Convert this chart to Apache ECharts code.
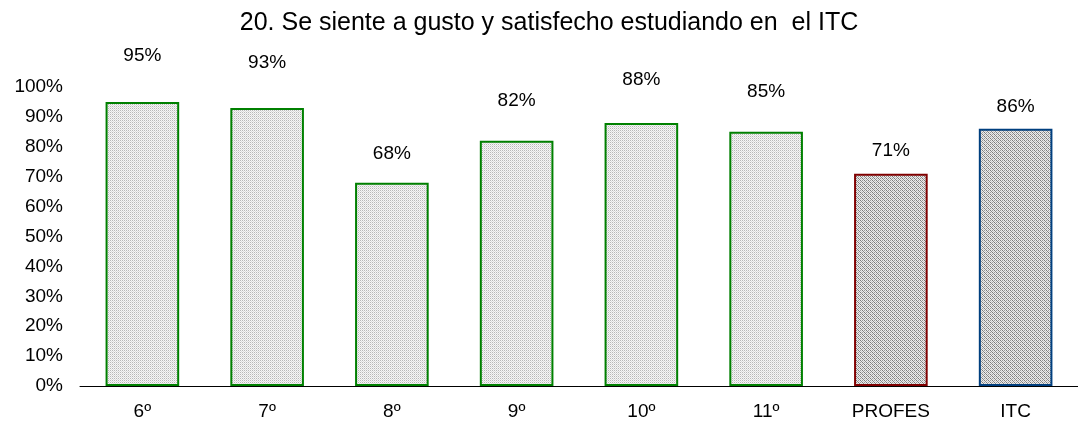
<!DOCTYPE html>
<html>
<head>
<meta charset="utf-8">
<script src="https://cdn.jsdelivr.net/npm/echarts@6/dist/echarts.min.js"></script>
<style>
  html, body { margin: 0; padding: 0; background: #fff; }
  #chart { width: 1078px; height: 427px; }
</style>
</head>
<body>
<div id="chart"></div>
<script>
const titleText = '20. Se siente a gusto y satisfecho estudiando en  el ITC';
const categories = ['6º', '7º', '8º', '9º', '10º', '11º', 'PROFES', 'ITC'];
const values = [95, 93, 68, 82, 88, 85, 71, 86];
const yTicks = [0, 10, 20, 30, 40, 50, 60, 70, 80, 90, 100];

// little tiles used as hatched fill
function makeTile(size, dots, bg) {
  let c = document.createElement('canvas');
  c.width = size; c.height = size;
  let ctx = c.getContext('2d');
  ctx.fillStyle = bg;
  ctx.fillRect(0, 0, size, size);
  dots.forEach(d => {
    ctx.fillStyle = d[2];
    ctx.fillRect(d[0], d[1], 1, 1);
  });
  return c;
}
const lightTile = makeTile(2, [[0, 0, '#b8b8b8'], [1, 1, '#dcdcdc']], '#f6f6f6');
const darkTile = makeTile(4, [
  [0, 0, '#7a7a7a'], [2, 0, '#9a9a9a'], [1, 1, '#8a8a8a'], [3, 1, '#c8c8c8'],
  [0, 2, '#9a9a9a'], [2, 2, '#7a7a7a'], [1, 3, '#c8c8c8'], [3, 3, '#8a8a8a']
], '#ececec');

const borders = ['#008000', '#008000', '#008000', '#008000', '#008000', '#008000', '#800000', '#003f7f'];
// labels were moved by hand in the original, keep them where they sat
const lift = [32, 31, 14, 26, 29, 26, 8, 8];

let chart = echarts.init(document.getElementById('chart'));
let option = {
  animation: false,
  textStyle: { fontFamily: 'Liberation Sans, Arial, sans-serif' },
  title: {
    text: titleText,
    left: 544,
    textAlign: 'center',
    top: 6,
    textStyle: { fontSize: 25, fontWeight: 'normal', color: '#000' }
  },
  grid: { left: 80, right: -6, top: 87, bottom: 41 },
  xAxis: {
    type: 'category',
    data: categories,
    axisLine: { lineStyle: { color: '#000', width: 1 } },
    axisTick: { length: 5, lineStyle: { color: '#000' } },
    axisLabel: { color: '#000', fontSize: 19, margin: 16 }
  },
  yAxis: {
    type: 'value',
    min: yTicks[0],
    max: yTicks[yTicks.length - 1],
    interval: 10,
    splitLine: { show: false },
    axisLine: { show: false },
    axisTick: { show: false },
    axisLabel: { color: '#000', fontSize: 19, margin: 17, formatter: '{value}%' }
  },
  series: [{
    type: 'bar',
    barWidth: '59%',
    data: values.map((v, i) => ({
      value: v,
      itemStyle: {
        color: { image: i < 6 ? lightTile : darkTile, repeat: 'repeat' },
        borderColor: borders[i],
        borderWidth: 2
      },
      label: { offset: [0, -lift[i]] }
    })),
    label: {
      show: true,
      position: 'top',
      distance: 5,
      color: '#000',
      fontSize: 19,
      formatter: '{c}%'
    }
  }]
};
chart.setOption(option);
</script>
</body>
</html>
